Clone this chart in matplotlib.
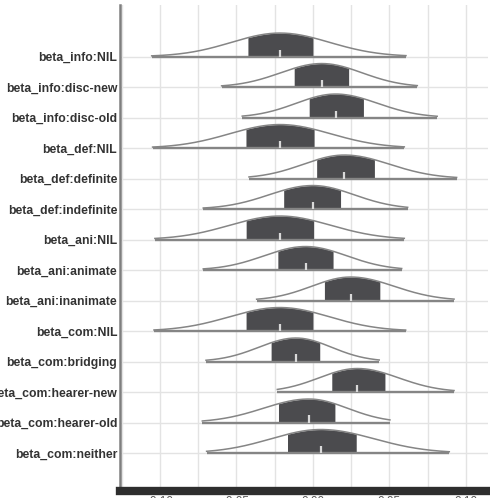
import numpy as np
import matplotlib
matplotlib.use("Agg")
import matplotlib.pyplot as plt
from matplotlib.ticker import MultipleLocator

params = ["beta_info:NIL", "beta_info:disc-new", "beta_info:disc-old",
          "beta_def:NIL", "beta_def:definite", "beta_def:indefinite",
          "beta_ani:NIL", "beta_ani:animate", "beta_ani:inanimate",
          "beta_com:NIL", "beta_com:bridging", "beta_com:hearer-new",
          "beta_com:hearer-old", "beta_com:neither"]
outer_lo = [-0.1054, -0.0597, -0.0462, -0.1048, -0.0418, -0.0717, -0.1033,
            -0.0717, -0.0368, -0.1039, -0.0699, -0.0233, -0.0723, -0.0695]
inner_lo = [-0.0429, -0.0124, -0.0026, -0.0438, 0.0024, -0.0194, -0.0438,
            -0.0231, 0.0074, -0.0438, -0.0275, 0.0122, -0.0227, -0.0168]
median = [-0.0216, 0.0057, 0.0148, -0.0216, 0.0205, -0.0002, -0.0216,
          -0.0048, 0.0246, -0.0216, -0.0111, 0.0290, -0.0026, 0.0052]
inner_hi = [0.0002, 0.0235, 0.0333, 0.0008, 0.0405, 0.0181, 0.0008,
            0.0133, 0.0438, 0.0002, 0.0046, 0.0471, 0.0144, 0.0286]
outer_hi = [0.0608, 0.0682, 0.0812, 0.0597, 0.0939, 0.0619, 0.0597,
            0.0580, 0.0922, 0.0606, 0.0433, 0.0922, 0.0503, 0.0891]
xticks = [-0.10, -0.05, 0.00, 0.05, 0.10]
xtick_labels = ["-0.10", "-0.05", "0.00", "0.05", "0.10"]

fig = plt.figure(figsize=(4.9, 4.98), dpi=100)
ax = fig.add_axes([120/490, 1-491/498, 368/490, 486/498])

n = len(params)
peak = 0.77
fill_col = "#4b4b4e"
line_col = "#858585"

for i, p in enumerate(params):
    y0 = n - i
    m = median[i]
    sl = (m - inner_lo[i]) / 0.6745
    sr = (inner_hi[i] - m) / 0.6745
    xs = np.linspace(outer_lo[i], outer_hi[i], 400)
    s = np.where(xs < m, sl, sr)
    d = np.exp(-0.5 * ((xs - m) / s) ** 2) * peak
    mask = (xs >= inner_lo[i]) & (xs <= inner_hi[i])
    ax.fill_between(xs[mask], y0, y0 + d[mask], color=fill_col, lw=0, zorder=3)
    ax.plot(xs, y0 + d, color=line_col, lw=1.1, zorder=4)
    ax.plot([outer_lo[i], outer_hi[i]], [y0, y0], color=line_col, lw=1.7,
            zorder=4, solid_capstyle="butt")
    ax.plot([m, m], [y0, y0 + 0.23], color="#d9d9d9", lw=1.6, zorder=5,
            solid_capstyle="butt")

ax.set_xlim(-0.1261, 0.1144)
ax.set_ylim(-0.246, 15.69)
ax.set_yticks(range(n, 0, -1))
ax.set_yticklabels(params, fontsize=8.8, fontweight="bold", color="#333333",
                   family="Liberation Sans")
ax.set_xticks(xticks)
ax.set_xticklabels(xtick_labels, fontsize=8.5, color="#555555",
                   family="Liberation Sans")
ax.xaxis.set_minor_locator(MultipleLocator(0.025))
ax.tick_params(axis="both", length=0, pad=2)
ax.tick_params(axis="x", pad=3.6)
ax.grid(True, which="both", color="#e3e3e3", lw=1.0, zorder=0)
ax.set_axisbelow(True)
for side in ["top", "right"]:
    ax.spines[side].set_visible(False)
ax.spines["left"].set_color("#7f7f7f")
ax.spines["left"].set_linewidth(1.8)
ax.spines["bottom"].set_color("#2e2e2e")
ax.spines["bottom"].set_linewidth(6)

fig.savefig("out.png", dpi=100)
